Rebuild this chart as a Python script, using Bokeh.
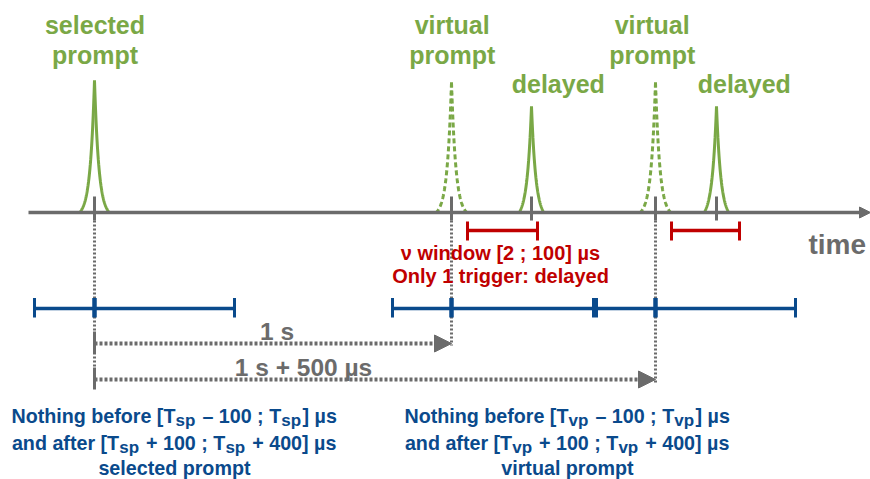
import numpy as np
from bokeh.plotting import figure
from bokeh.models import Range1d, Arrow, NormalHead, ColumnDataSource
from bokeh.core.properties import value
from bokeh.embed import file_html
from bokeh.resources import INLINE

FONT = "Liberation Sans"
GREEN = "#7aa846"
BLUE = "#0a4a8c"
RED = "#c00000"
GRAY = "#6b6b6b"

# ---------------- data (diagram units) ----------------
# events on the time axis
event_x = [94, 451, 531, 655, 716]
event_kind = ["selected", "virtual", "delayed", "virtual", "delayed"]
peak_top = [80, 82, 106, 82, 106]
peak_halfwidth = [15, 15.5, 12.5, 15.5, 12.5]
axis_y = 212
axis_start, axis_end = 28, 870

# green event labels
label_lines = [["selected", "prompt"], ["virtual", "prompt"], ["delayed"],
               ["virtual", "prompt"], ["delayed"]]
label_x = [94.5, 451.7, 557.8, 651.7, 743.8]
label_baseline = [33, 33, 92, 33, 92]

# neutrino windows after each prompt
nu_windows = [(467, 537), (671, 739)]
nu_y = 230
nu_text = ["ν window [2 ; 100] µs", "Only 1 trigger: delayed"]
nu_text_x = 500
nu_text_baseline = [259, 282]

# isolation (veto) intervals
veto_intervals = [(34, 234), (392, 596), (593, 795)]
veto_centres = [94, 451, 655]
veto_y = 308

# distance arrows from the selected prompt
dist_from = 94
dist_to = [451, 655]
dist_y = [343, 379]
dist_text = ["1 s", "1 s + 500 µs"]
dist_text_x = [276.5, 303]
dist_text_baseline = [339, 375]

# blue condition texts
cond_subscripts = ["sp", "vp"]
cond_names = ["selected prompt", "virtual prompt"]
cond_centre_x = [174, 567]
cond_baselines = [421.7, 449, 474]

# ---------------- figure ----------------
W, H = 870, 479
p = figure(width=W, height=H, output_backend="svg", toolbar_location=None,
           x_range=Range1d(0, W), y_range=Range1d(H, 0),
           x_axis_location=None, y_axis_location=None, min_border=0,
           outline_line_color=None, background_fill_color="white",
           border_fill_color="white")
p.xgrid.visible = False
p.ygrid.visible = False


def bl(y, size):
    """baseline correction for the renderer's alphabetic baseline"""
    return y - 0.33 * size


# time axis with arrow
p.add_layout(Arrow(x_start=axis_start, y_start=axis_y, x_end=axis_end, y_end=axis_y,
                   line_color=GRAY, line_width=3.5,
                   end=NormalHead(size=11, fill_color=GRAY, line_color=GRAY, line_width=1)))
p.text(x=[808], y=[bl(253, 28)], text=["time"], text_font=value(FONT), text_font_style="bold",
       text_font_size=value("28px"), text_color=GRAY, text_align="left",
       text_baseline="alphabetic")

# peaks
tau = 4.4
solid_xs, solid_ys, dash_xs, dash_ys = [], [], [], []
for x0, top, hw, kind in zip(event_x, peak_top, peak_halfwidth, event_kind):
    d = np.linspace(0, hw, 80)
    f = (np.exp(-d / tau) - np.exp(-hw / tau)) / (1 - np.exp(-hw / tau))
    yy = axis_y - f * (axis_y - top)
    for sgn in (-1, 1):
        if kind == "virtual":
            dash_xs.append(list(x0 + sgn * d)); dash_ys.append(list(yy))
        else:
            solid_xs.append(list(x0 + sgn * d)); solid_ys.append(list(yy))
p.multi_line(xs=solid_xs, ys=solid_ys, line_color=GREEN, line_width=3)
p.multi_line(xs=dash_xs, ys=dash_ys, line_color=GREEN, line_width=3, line_dash="5 3")

# ticks on the axis
p.segment(x0=event_x, y0=[196] * len(event_x), x1=event_x, y1=[220] * len(event_x),
          line_color=GRAY, line_width=3)

# dotted vertical guides from prompts
guide_x = [event_x[0], event_x[1], event_x[3]]
guide_bottom = [388, 345, 383]
p.segment(x0=guide_x, y0=[220] * 3, x1=guide_x, y1=guide_bottom,
          line_color=GRAY, line_width=3, line_dash="2 2")

# green labels
for lines, lx, lb in zip(label_lines, label_x, label_baseline):
    p.text(x=[lx] * len(lines), y=[bl(lb + 30 * i, 25) for i in range(len(lines))], text=lines,
           text_font=value(FONT), text_font_style="bold", text_font_size=value("25px"),
           text_color=GREEN, text_align="center", text_baseline="alphabetic")

# neutrino windows (red)
for a, b in nu_windows:
    p.segment(x0=[a], y0=[nu_y], x1=[b], y1=[nu_y], line_color=RED, line_width=3.5)
    p.segment(x0=[a, b], y0=[221, 221], x1=[a, b], y1=[240, 240], line_color=RED, line_width=3)
p.text(x=[nu_text_x] * 2, y=[bl(v, 20) for v in nu_text_baseline], text=nu_text,
       text_font=value(FONT), text_font_style="bold", text_font_size=value("20px"),
       text_color=RED, text_align="center", text_baseline="alphabetic")

# veto intervals (blue)
for a, b in veto_intervals:
    p.segment(x0=[a], y0=[veto_y], x1=[b], y1=[veto_y], line_color=BLUE, line_width=3.5)
    p.segment(x0=[a, b], y0=[veto_y - 10.5] * 2, x1=[a, b], y1=[veto_y + 9] * 2,
              line_color=BLUE, line_width=3)
p.segment(x0=veto_centres, y0=[veto_y - 10.5] * 3, x1=veto_centres, y1=[veto_y + 9] * 3,
          line_color=BLUE, line_width=4.5)

# distance arrows
for xt, yv in zip(dist_to, dist_y):
    p.add_layout(Arrow(x_start=dist_from, y_start=yv, x_end=xt, y_end=yv,
                       line_color=GRAY, line_width=4, line_dash="3 2",
                       end=NormalHead(size=17, fill_color=GRAY, line_color=GRAY, line_width=1)))
    p.segment(x0=[dist_from], y0=[yv - 12], x1=[dist_from], y1=[yv + 10],
              line_color=GRAY, line_width=3)
p.text(x=dist_text_x, y=[bl(v, 24.5) for v in dist_text_baseline], text=dist_text,
       text_font=value(FONT), text_font_style="bold", text_font_size=value("24.5px"),
       text_color=GRAY, text_align="center", text_baseline="alphabetic")

# blue condition texts with subscripts
CW = {' ': 278, '[': 333, ']': 333, ';': 333, '+': 584, '–': 556, ':': 333, 'µ': 611,
      '0': 556, '1': 556, '2': 556, '3': 556, '4': 556, '5': 556, '6': 556, '7': 556,
      '8': 556, '9': 556, 'a': 556, 'b': 611, 'c': 556, 'd': 611, 'e': 556, 'f': 333,
      'g': 611, 'h': 611, 'i': 278, 'l': 278, 'm': 889, 'n': 611, 'o': 611, 'p': 611,
      'r': 389, 's': 556, 't': 333, 'u': 611, 'v': 556, 'w': 778, 'y': 556, 'N': 722,
      'T': 611, 'O': 778}
MAIN, SUB = 19.7, 17.0


def tw(s, size):
    return sum(CW.get(c, 556) for c in s) / 1000.0 * size


px, py, pt, ps = [], [], [], []
for sub, name, cx in zip(cond_subscripts, cond_names, cond_centre_x):
    lines = [
        [("Nothing before [T", 0), (sub, 1), (" – 100 ; T", 0), (sub, 1), ("] µs", 0)],
        [("and after [T", 0), (sub, 1), (" + 100 ; T", 0), (sub, 1), (" + 400] µs", 0)],
        [(name, 0)],
    ]
    for pieces, base in zip(lines, cond_baselines):
        widths = [tw(s, SUB if is_sub else MAIN) + (1.5 if is_sub else 0) for s, is_sub in pieces]
        x = cx - sum(widths) / 2
        for (s, is_sub), w in zip(pieces, widths):
            size = SUB if is_sub else MAIN
            stripped = s.lstrip(" ")
            lead = tw(s[:len(s) - len(stripped)], size)
            px.append(x + lead)
            py.append(bl(base, MAIN) + (5 if is_sub else 0))
            pt.append(stripped)
            ps.append(f"{size}px")
            x += w
src = ColumnDataSource(dict(x=px, y=py, text=pt, size=ps))
p.text(x="x", y="y", text="text", text_font_size="size", source=src, text_font=value(FONT),
       text_font_style="bold", text_color=BLUE, text_align="left", text_baseline="alphabetic")

open("out.html", "w").write(file_html(p, INLINE))
